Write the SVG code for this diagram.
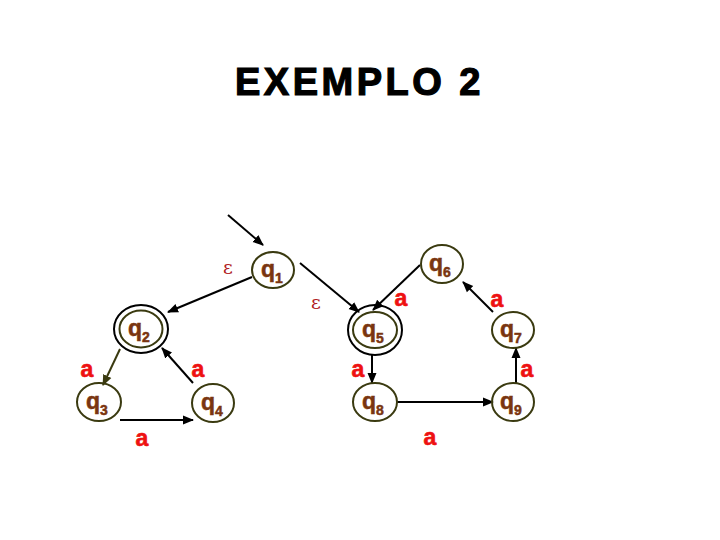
<svg xmlns="http://www.w3.org/2000/svg" width="720" height="540" viewBox="0 0 720 540">
<defs>
<marker id="ah" markerWidth="11" markerHeight="11" refX="10" refY="5.5" orient="auto" markerUnits="userSpaceOnUse">
<path d="M0,1 L11,5.5 L0,10 Z" fill="#000"/>
</marker>
<marker id="aho" markerWidth="11" markerHeight="11" refX="10" refY="5.5" orient="auto" markerUnits="userSpaceOnUse">
<path d="M0,1 L11,5.5 L0,10 Z" fill="#3a3a10"/>
</marker>
<style>
.st{fill:none;stroke:#3a3a10;stroke-width:2}
.acc{fill:none;stroke:#000;stroke-width:2}
.q{font-family:"Liberation Sans",Arial,sans-serif;font-weight:bold;font-size:23px;fill:#7a3510;stroke:#7a3510;stroke-width:0.5}
.sub{font-size:14px}
.e{stroke:#000;stroke-width:2;fill:none;marker-end:url(#ah)}
.lab{font-family:"Liberation Sans",Arial,sans-serif;font-weight:bold;font-size:23px;fill:#ee1111;stroke:#ee1111;stroke-width:0.6;text-anchor:middle}
.eps{font-family:"DejaVu Serif","Liberation Serif",serif;font-size:19px;fill:#b02020;text-anchor:middle}
</style>
</defs>
<rect width="720" height="540" fill="#fff"/>
<text x="235" y="95" font-family="Liberation Sans,Arial,sans-serif" font-weight="bold" font-size="38" letter-spacing="3.5" fill="#000" stroke="#000" stroke-width="1.2">EXEMPLO 2</text>

<g id="connectors">
<line class="e" x1="228" y1="215" x2="263" y2="245"/>
<line class="e" x1="252" y1="277" x2="168" y2="312"/>
<line class="e" x1="300" y1="263" x2="359" y2="312"/>
<line style="stroke:#3a3a10;stroke-width:2;fill:none;marker-end:url(#aho)" x1="120" y1="349" x2="103" y2="385"/>
<line class="e" x1="120" y1="420" x2="193" y2="420"/>
<line class="e" x1="193" y1="383" x2="162" y2="348"/>
<line class="e" x1="420" y1="265" x2="373" y2="310"/>
<line class="e" x1="493" y1="312" x2="463" y2="282"/>
<line class="e" x1="372" y1="355" x2="372" y2="383"/>
<line class="e" x1="397" y1="402" x2="493" y2="402"/>
<line class="e" x1="516" y1="383" x2="516" y2="348"/>
<text class="eps" x="228" y="274">ε</text>
<text class="eps" x="316" y="309">ε</text>
<text class="lab" x="87" y="377">a</text>
<text class="lab" x="198" y="377">a</text>
<text class="lab" x="142" y="446">a</text>
<text class="lab" x="401" y="306">a</text>
<text class="lab" x="497" y="307">a</text>
<text class="lab" x="358" y="377">a</text>
<text class="lab" x="527" y="377">a</text>
<text class="lab" x="430" y="445">a</text>
</g>

<g id="q1"><ellipse class="st" cx="273" cy="270" rx="21" ry="18"/><text class="q" x="261" y="277">q<tspan class="sub" dy="6">1</tspan></text></g>
<g id="q2"><ellipse class="acc" cx="141" cy="329" rx="27" ry="24"/><ellipse class="st" cx="141" cy="329" rx="21.5" ry="18.5"/><text class="q" x="128" y="336">q<tspan class="sub" dy="6">2</tspan></text></g>
<g id="q3"><ellipse class="st" cx="99" cy="402" rx="22" ry="19"/><text class="q" x="86" y="409">q<tspan class="sub" dy="6">3</tspan></text></g>
<g id="q4"><ellipse class="st" cx="213" cy="403" rx="21" ry="19"/><text class="q" x="201" y="410">q<tspan class="sub" dy="6">4</tspan></text></g>
<g id="q5"><ellipse class="acc" cx="375" cy="330" rx="27" ry="25"/><ellipse class="st" cx="375" cy="330" rx="22" ry="18"/><text class="q" x="362" y="337">q<tspan class="sub" dy="6">5</tspan></text></g>
<g id="q6"><ellipse class="st" cx="442" cy="264" rx="21" ry="19"/><text class="q" x="429" y="271">q<tspan class="sub" dy="6">6</tspan></text></g>
<g id="q7"><ellipse class="st" cx="513" cy="330" rx="21" ry="18"/><text class="q" x="500" y="337">q<tspan class="sub" dy="6">7</tspan></text></g>
<g id="q8"><ellipse class="st" cx="375" cy="402" rx="22" ry="19"/><text class="q" x="362" y="409">q<tspan class="sub" dy="6">8</tspan></text></g>
<g id="q9"><ellipse class="st" cx="513" cy="402" rx="21" ry="19"/><text class="q" x="500" y="409">q<tspan class="sub" dy="6">9</tspan></text></g>
</svg>
